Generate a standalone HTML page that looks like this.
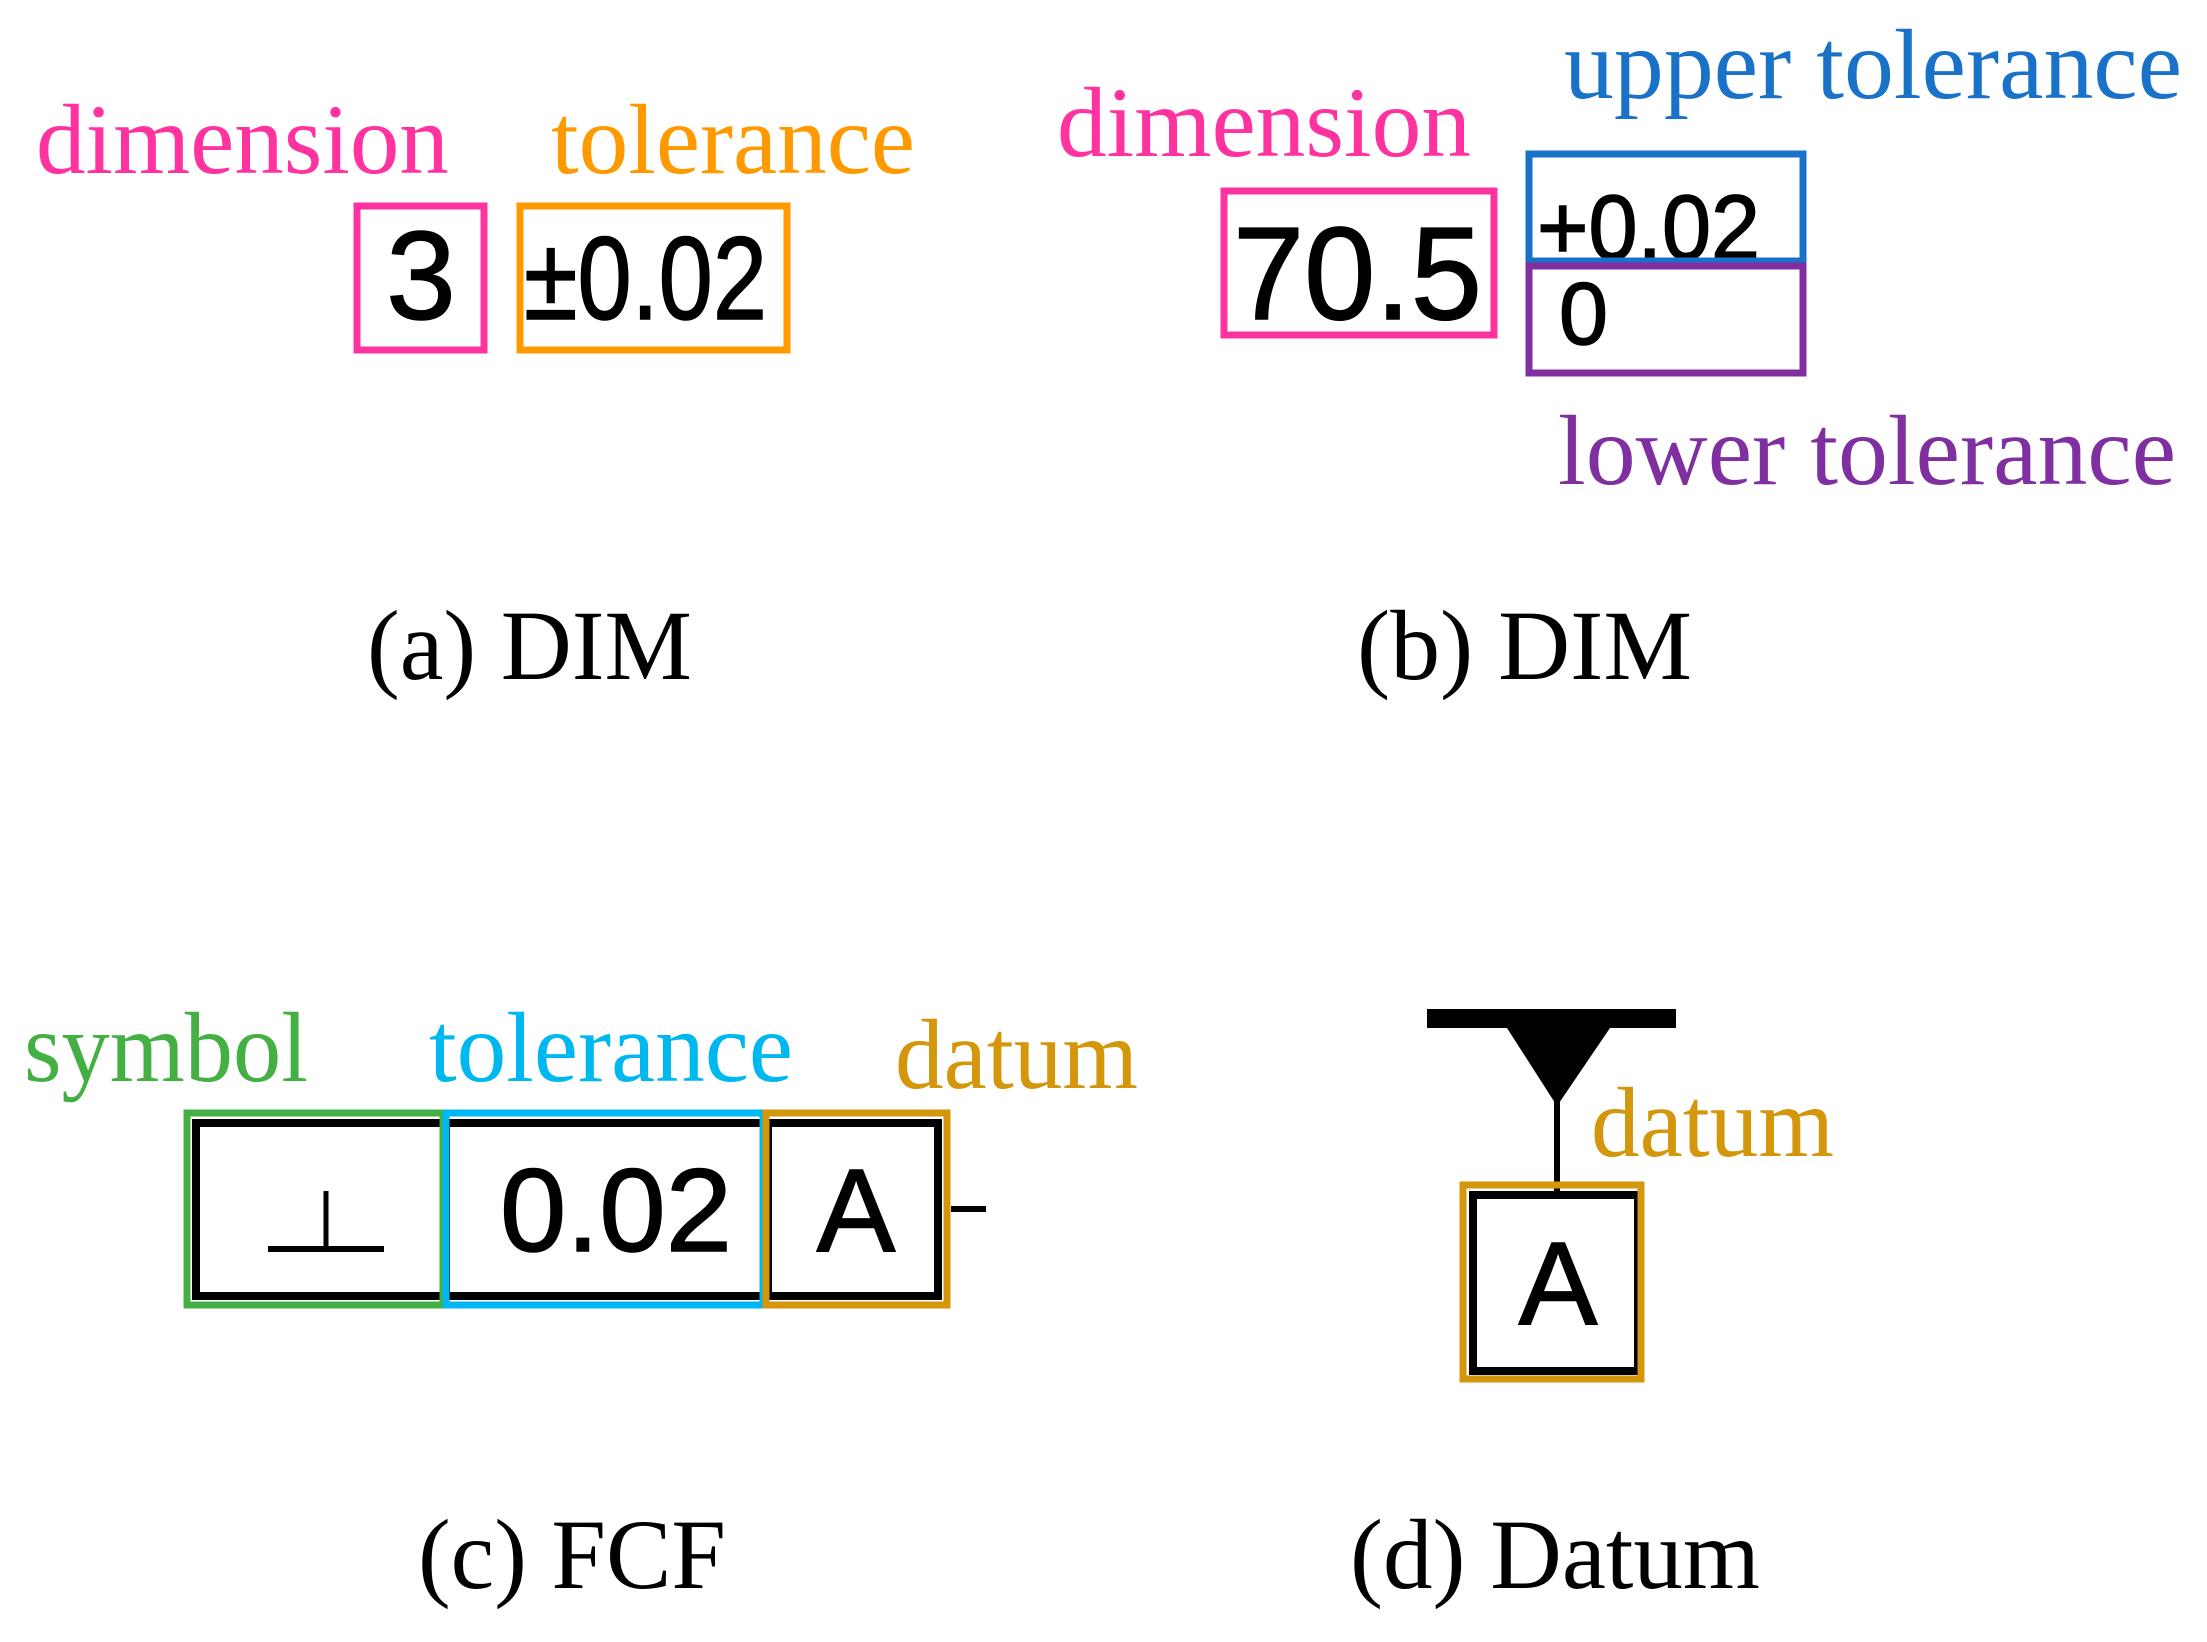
<!DOCTYPE html>
<html><head><meta charset="utf-8"><style>html,body{margin:0;padding:0;background:#fff}svg{display:block}</style></head>
<body>
<svg width="2207" height="1642" viewBox="0 0 2207 1642" xmlns="http://www.w3.org/2000/svg">
<g transform="translate(-4,-4)">
<g font-family="Liberation Serif, serif" font-size="100">
<text x="40" y="177" fill="#ff33a0" textLength="413" lengthAdjust="spacingAndGlyphs">dimension</text>
<text x="555" y="177" fill="#ff9900" textLength="364" lengthAdjust="spacingAndGlyphs">tolerance</text>
<text x="371" y="683" fill="#000" textLength="325" lengthAdjust="spacingAndGlyphs">(a) DIM</text>
<text x="1061" y="160" fill="#ff33a0" textLength="414" lengthAdjust="spacingAndGlyphs">dimension</text>
<text x="1568" y="102" fill="#1a72c8" textLength="618" lengthAdjust="spacingAndGlyphs">upper tolerance</text>
<text x="1562" y="488" fill="#7f2fa0" textLength="618" lengthAdjust="spacingAndGlyphs">lower tolerance</text>
<text x="1361" y="683" fill="#000" textLength="335" lengthAdjust="spacingAndGlyphs">(b) DIM</text>
<text x="28" y="1085" fill="#44b044" textLength="284" lengthAdjust="spacingAndGlyphs">symbol</text>
<text x="433" y="1085" fill="#00b8f0" textLength="364" lengthAdjust="spacingAndGlyphs">tolerance</text>
<text x="899" y="1092" fill="#d4960a" textLength="243" lengthAdjust="spacingAndGlyphs">datum</text>
<text x="1595" y="1160" fill="#d4960a" textLength="243" lengthAdjust="spacingAndGlyphs">datum</text>
<text x="422" y="1592" fill="#000" textLength="308" lengthAdjust="spacingAndGlyphs">(c) FCF</text>
<text x="1354" y="1592" fill="#000" textLength="410" lengthAdjust="spacingAndGlyphs">(d) Datum</text>
</g>
<g fill="none">
<rect x="361" y="210" width="127" height="144" stroke="#ff33a0" stroke-width="7"/>
<rect x="524" y="210" width="267" height="144" stroke="#ff9900" stroke-width="7"/>
<rect x="1228" y="195" width="270" height="144" stroke="#ff33a0" stroke-width="7"/>
</g>
<g font-family="Liberation Sans, Arial, sans-serif" fill="#000" stroke="#000" stroke-width="1.5">
<text x="425" y="323" font-size="125" text-anchor="middle">3</text>
<text x="528" y="323" font-size="118" textLength="243" lengthAdjust="spacingAndGlyphs">±0.02</text>
<text x="1237" y="323" font-size="132" textLength="249" lengthAdjust="spacingAndGlyphs">70.5</text>
<text x="1541" y="263" font-size="92" textLength="223" lengthAdjust="spacingAndGlyphs">+0.02</text>
<text x="1563" y="348" font-size="88">0</text>
</g>
<rect x="1533" y="158" width="274" height="107" fill="none" stroke="#1a72c8" stroke-width="7"/>
<rect x="1533" y="270" width="274" height="107" fill="none" stroke="#7f2fa0" stroke-width="7"/>
<g transform="translate(0,-4)">
<rect x="200" y="1131" width="742" height="173" fill="none" stroke="#000" stroke-width="8"/>
<line x1="450" y1="1131" x2="450" y2="1304" stroke="#000" stroke-width="8"/>
<line x1="772" y1="1131" x2="772" y2="1304" stroke="#000" stroke-width="8"/>
<line x1="330" y1="1199" x2="330" y2="1257" stroke="#000" stroke-width="5"/>
<line x1="272" y1="1257" x2="388" y2="1257" stroke="#000" stroke-width="6"/>
<g font-family="Liberation Sans, Arial, sans-serif" fill="#000" stroke="#000" stroke-width="1.5" font-size="118">
<text x="504" y="1259" textLength="232" lengthAdjust="spacingAndGlyphs">0.02</text>
<text x="860" y="1259" text-anchor="middle">A</text>
</g>
<line x1="955" y1="1217" x2="990" y2="1217" stroke="#000" stroke-width="6"/>
<rect x="191" y="1121" width="256" height="192" fill="none" stroke="#44b044" stroke-width="7"/>
<rect x="450" y="1121" width="317" height="192" fill="none" stroke="#00b8f0" stroke-width="7"/>
<rect x="770" y="1121" width="181" height="192" fill="none" stroke="#d4960a" stroke-width="7"/>
</g>
<g transform="translate(-4,-2)">
<rect x="1435" y="1015" width="249" height="19" fill="#000"/>
<polygon points="1515,1034 1618,1034 1565,1112" fill="#000"/>
<line x1="1565" y1="1105" x2="1565" y2="1205" stroke="#000" stroke-width="6"/>
<rect x="1481" y="1201" width="165" height="176" fill="none" stroke="#000" stroke-width="8"/>
<text x="1566" y="1330" font-family="Liberation Sans, Arial, sans-serif" font-size="118" text-anchor="middle" stroke="#000" stroke-width="1.5">A</text>
<rect x="1471" y="1191" width="178" height="194" fill="none" stroke="#d4960a" stroke-width="7"/>
</g>
</g>
</svg>
</body></html>
